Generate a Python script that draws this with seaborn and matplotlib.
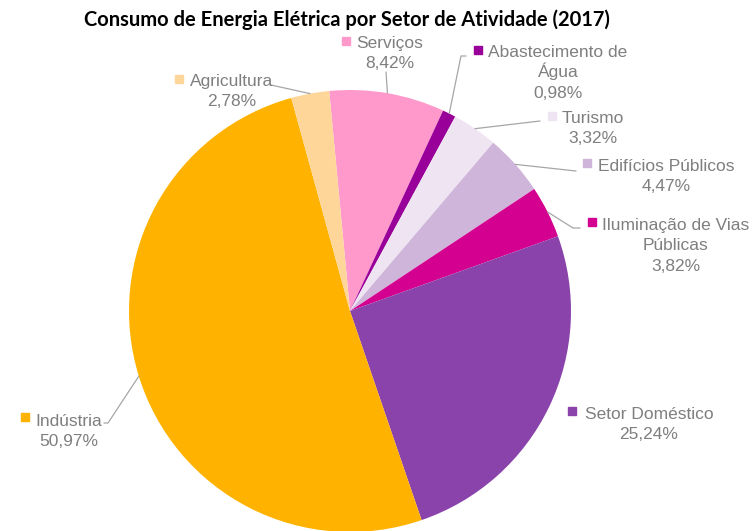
import matplotlib
matplotlib.use('Agg')
import matplotlib.pyplot as plt
import seaborn as sns
import numpy as np

# Dados (ordem no sentido horário a partir do topo)
categories = ['Serviços', 'Abastecimento de\nÁgua', 'Turismo', 'Edifícios Públicos',
              'Iluminação de Vias\nPúblicas', 'Setor Doméstico', 'Indústria', 'Agricultura']
shares = [8.42, 0.98, 3.32, 4.47, 3.82, 25.24, 50.97, 2.78]
colors = ['#FF99CC', '#990099', '#EEE4F2', '#CFB5D9', '#D4008F', '#8A43AA', '#FFB300', '#FFD699']

sns.set_style('white')
plt.rcParams['font.family'] = ['Liberation Sans', 'DejaVu Sans']

W, H = 753, 531
cx, cy, r = 350, 311, 221

fig = plt.figure(figsize=(W / 100, H / 100), dpi=100)
ax = fig.add_axes([(cx - r) / W, (H - cy - r) / H, 2 * r / W, 2 * r / H])
wedges, _ = ax.pie(shares, colors=colors, startangle=95.4, counterclock=False,
                   radius=1, wedgeprops=dict(linewidth=0))
ax.set_xlim(-1, 1)
ax.set_ylim(-1, 1)
ax.axis('off')


def to_data(px, py):
    return (px - cx) / r, (cy - py) / r


# Layout dos rótulos em pixels: (quadrado x, quadrado y, centro do texto x, 1a linha y)
label_pos = [
    (346, 41, 390, 42),
    (478, 50, 558, 51),
    (552, 116, 593, 117),
    (587, 163, 666, 165),
    (592, 222, 676, 224),
    (572, 411, 649, 413),
    (25, 417, 69, 420),
    (179, 79, 232, 80),
]
# Linhas de chamada (pontos depois da borda da fatia), em pixels
leaders = [
    [(386, 72)],
    [(461, 56), (466, 56)],
    [(540, 121)],
    [(576, 171)],
    [(573, 228), (580, 228)],
    [],
    [(108, 423), (104, 423)],
    [(271, 85)],
]

text_color = '#7F7F7F'
line_h = 20.3
for w, name, val, col, (kx, ky, tx, ty), pts in zip(wedges, categories, shares, colors,
                                                      label_pos, leaders):
    lines = name.split('\n') + [f'{val:.2f}'.replace('.', ',') + '%']
    for j, ln in enumerate(lines):
        x, y = to_data(tx, ty + j * line_h + 6)
        ax.text(x, y, ln, ha='center', va='baseline', fontsize=12.5,
                color=text_color, clip_on=False)
    kxd, kyd = to_data(kx, ky)
    ax.plot([kxd], [kyd], marker='s', markersize=6.2, color=col,
            linestyle='none', clip_on=False)
    if pts:
        theta = np.deg2rad((w.theta1 + w.theta2) / 2)
        xs = [np.cos(theta)] + [to_data(*p)[0] for p in pts]
        ys = [np.sin(theta)] + [to_data(*p)[1] for p in pts]
        ax.plot(xs, ys, color='#A6A6A6', linewidth=0.9, clip_on=False)

fig.text(347 / W, 1 - 26 / H, 'Consumo de Energia Elétrica por Setor de Atividade (2017)',
         ha='center', va='baseline', fontsize=14.5, fontweight='bold',
         family=['Lato', 'DejaVu Sans'], color='#000000')

fig.savefig('out.png', dpi=100)
